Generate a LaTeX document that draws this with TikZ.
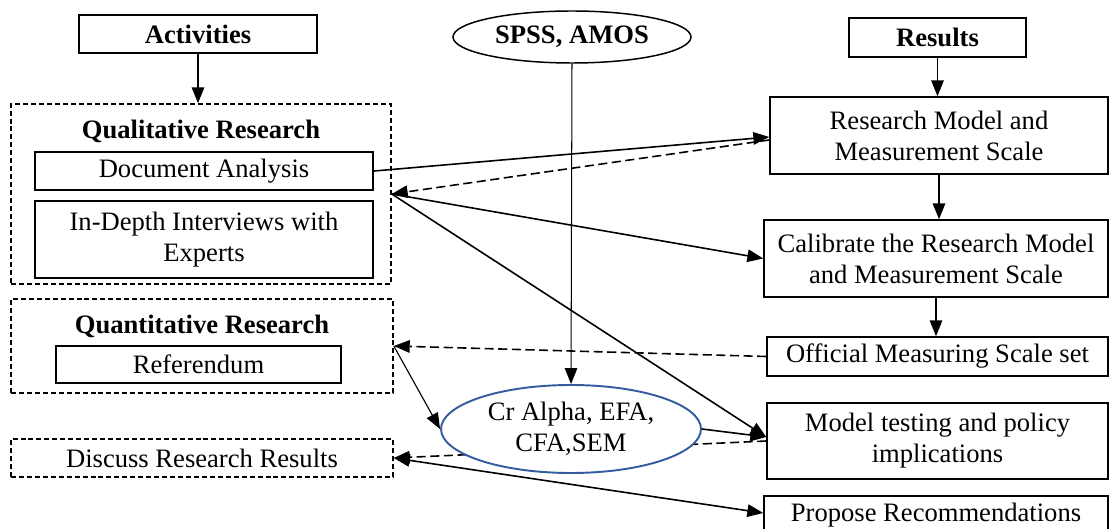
\documentclass[tikz,border=0pt]{standalone}
\usepackage{fontspec}
\setmainfont{Liberation Serif}
\usetikzlibrary{arrows.meta, shapes.geometric, backgrounds, calc}

\begin{document}
\begin{tikzpicture}[x=0.44pt, y=-0.44pt,
    font=\fontsize{11.7}{13.6}\selectfont,
    >={Triangle[length=7pt, width=5.5pt]},
    sz/.style 2 args={minimum width={#1*0.44pt}, minimum height={#2*0.44pt}},
    box/.style={draw, line width=0.65pt, inner sep=0pt, align=center},
    thickbox/.style={box, line width=1pt},
    thinbox/.style={box, line width=0.5pt},
    dbox/.style={draw, line width=0.7pt, dash pattern=on 2.2pt off 1.3pt, inner sep=0pt},
    oval/.style={draw, ellipse, line width=0.65pt, fill=white, inner sep=0pt, align=center},
    arr/.style={->, line width=0.7pt},
    darr/.style={arr, dash pattern=on 4pt off 2pt}]
    % Picture frame, in pixels of the reference
    \useasboundingbox (0,0) rectangle (1110,529);
    \definecolor{ovalblue}{RGB}{52,92,158}

    % Headings
    \node[box, sz={238}{38}] (act) at (198,34) {\textbf{Activities}};
    \node[oval, sz={238}{52}] (spss) at (572,37) {\textbf{SPSS, AMOS}};
    \node[box, sz={177}{39}] (res) at (937.5,37.5) {\textbf{Results}};

    % Activities column
    \node[dbox, sz={380}{180}] (qual) at (201,194) {};
    \node (qualt) at (201,131) {\textbf{Qualitative Research}};
    \node[thickbox, sz={338}{38}] (doc) at (204,171) {Document Analysis};
    \node[thickbox, sz={338}{77}] (inter) at (204,239.5) {In-Depth Interviews with\\Experts};
    \node[dbox, sz={382}{94}] (quant) at (202,346) {};
    \node (quantt) at (202,326) {\textbf{Quantitative Research}};
    \node[thinbox, sz={285}{37}] (refer) at (198.5,364.5) {Referendum};
    \node[dbox, sz={382}{38}] (disc) at (202,458) {Discuss Research Results};

    % Tools
    \node[oval, draw=ovalblue, line width=0.85pt, sz={260}{88}] (cra) at (571,429) {Cr Alpha, EFA,\\CFA,SEM};

    % Results column
    \node[box, sz={338}{77}] (rm) at (939,135.5) {Research Model and\\Measurement Scale};
    \node[box, sz={344}{77}] (cal) at (936,258.5) {Calibrate the Research Model\\and Measurement Scale};
    \node[box, sz={341}{39}] (off) at (937.5,356.5) {Official Measuring Scale set};
    \node[box, sz={341}{76}] (mt) at (937.5,441) {Model testing and policy\\implications};
    \node[box, sz={344}{38}] (prop) at (936,515) {Propose Recommendations};

    % Vertical flow
    \draw[arr] (act.south) -- (act.south |- qual.north);
    \draw[arr] (res.south) -- (res.south |- rm.north);
    \draw[arr] (rm.south) -- (rm.south |- cal.north);
    \draw[arr] (cal.south) -- (cal.south |- off.north);
    \draw[->, line width=0.45pt] (spss.south) -- (cra.north);

    % Links between the columns
    \draw[arr] (doc.east) -- ($(rm.west)+(0,1.5)$);
    \draw[darr] ($(rm.west)+(0,4.5)$) -- (qual.east);
    \draw[arr] (qual.east) -- (cal.west);
    \draw[arr] (qual.east) -- ($(mt.west)+(0,-4)$);
    \draw[darr] (off.west) -- (quant.east);
    \draw[->, line width=0.5pt] (quant.east) -- (cra.west);
    \draw[arr] (cra.east) -- ($(mt.west)+(0,-4)$);
    \begin{pgfonlayer}{background}
        \draw[darr] (mt.west) -- (disc.east);
    \end{pgfonlayer}
    \draw[<->, line width=0.7pt] (disc.east) -- ($(prop.west)+(0,-2)$);
\end{tikzpicture}
\end{document}
